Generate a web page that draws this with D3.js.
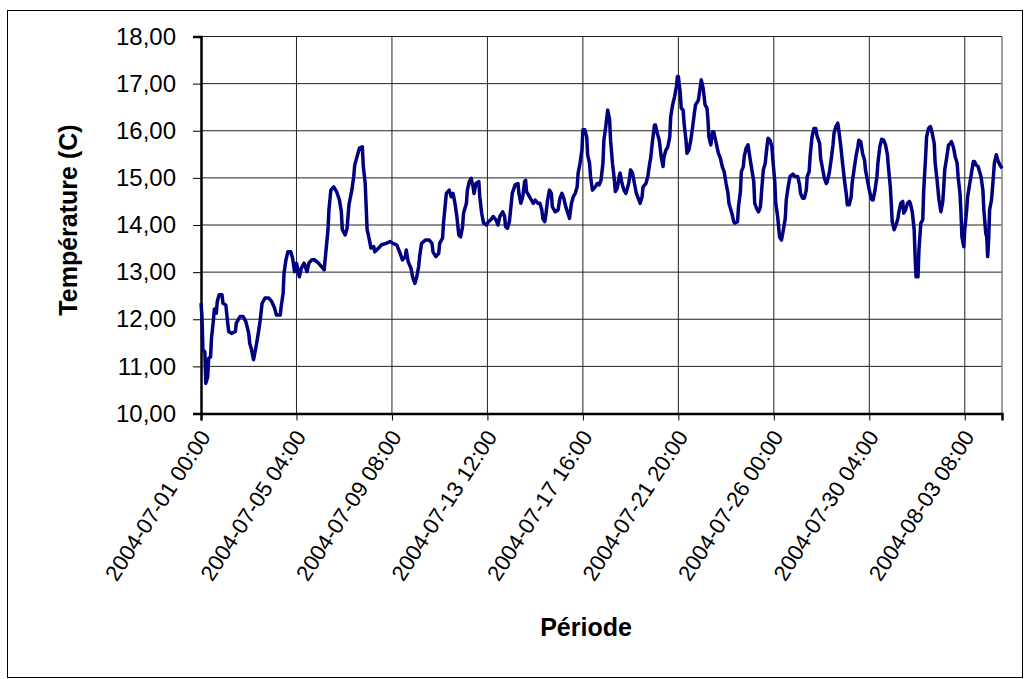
<!DOCTYPE html>
<html>
<head>
<meta charset="utf-8">
<script src="https://cdn.jsdelivr.net/npm/d3@7"></script>
<style>
  body { margin: 0; background: #fff; }
  svg { display: block; font-family: Arial, "Liberation Sans", sans-serif; }
</style>
</head>
<body>
<div id="chart-container"></div>
<script>
// Configuration
const width = 1032;
const height = 679;
const plot = { left: 201, right: 1002, top: 36.5, bottom: 413.5 };

// --- Data (hour index from 2004-07-01 00:00, temperature in C) ---
const hours = [
  0, 1, 2, 4, 5, 7, 8, 10, 11, 13, 14, 16, 17, 19, 22, 23, 26, 28, 29, 32, 36, 37, 41, 44, 47, 50, 51, 53, 55, 57, 58, 60, 62, 64, 67, 71, 74, 77, 79, 83, 84, 86, 87, 89, 91, 94, 96, 98,
  100, 103, 105, 108, 111, 113, 116, 119, 123, 126, 129, 131, 133, 134, 136, 139, 142, 145, 147, 148, 151, 153, 155, 158, 160, 161, 164, 166, 169, 170, 172, 173, 174, 176, 178, 181, 182, 186, 189, 194, 198,
  201, 205, 208, 211, 214, 215, 217, 220, 222, 224, 226, 228, 229, 231, 235, 239, 242, 243, 246, 249, 250, 253, 254, 256, 257, 260, 262, 264, 266, 268, 270, 272, 274, 275, 278, 279, 281, 283, 285, 286, 288, 291, 292, 294, 296, 299,
  301, 304, 306, 309, 311, 313, 316, 318, 319, 321, 323, 325, 326, 329, 332, 333, 335, 337, 339, 340, 341, 343, 346, 348, 350, 353, 355, 357, 358, 360, 361, 363, 365, 367, 368, 371, 374, 376, 378, 380, 382, 385, 386, 388, 390, 392, 394, 395, 397, 399,
  400, 402, 404, 405, 407, 408, 410, 413, 415, 417, 419, 421, 422, 424, 426, 428, 429, 431, 433, 434, 436, 438, 439, 441, 443, 445, 448, 450, 452, 454, 456, 458, 460, 462, 463, 466, 468, 470, 471, 473, 475, 476, 478, 480, 482, 484, 485, 487, 489, 491, 492, 494, 496, 498, 499,
  500, 502, 503, 505, 506, 508, 509, 511, 513, 515, 517, 518, 521, 523, 524, 526, 528, 530, 531, 532, 534, 536, 537, 539, 540, 542, 544, 546, 548, 550, 552, 553, 556, 558, 559, 562, 563, 565, 566, 568, 569, 571, 573, 575, 577, 579, 580, 582, 584, 586, 587, 589, 591, 593, 594, 596, 598, 599,
  601, 602, 604, 605, 606, 608, 610, 612, 613, 615, 617, 620, 622, 625, 627, 628, 630, 632, 634, 635, 637, 638, 640, 642, 644, 645, 648, 649, 651, 653, 655, 656, 658, 660, 662, 663, 665, 667, 668, 670, 672, 674, 676, 677, 679, 681, 682, 684, 686, 688, 689, 691, 693, 695, 696, 698,
  700, 702, 703, 704, 706, 708, 709, 711, 713, 715, 717, 719, 720, 722, 723, 724, 726, 728, 730, 731, 733, 735, 736, 738, 740, 742, 743, 745, 747, 748, 749, 751, 752, 754, 756, 757, 759, 760, 762, 764, 766, 768, 769, 771, 773, 775, 777, 778, 779, 781, 783, 785, 786, 788, 790, 792, 793, 795, 796, 797, 799,
  800, 802, 803, 805, 807, 809, 810, 812, 814, 816, 817, 819, 820, 822, 823, 824, 825, 826, 828, 830, 831, 833, 835, 837, 839
];
const temps = [
  12.34, 12.06, 11.35, 11.31, 10.64, 10.78, 11.17, 11.20, 11.60, 11.98, 12.22, 12.13, 12.37, 12.52, 12.52, 12.34, 12.30, 11.92, 11.74, 11.70, 11.74, 11.92, 12.06, 12.06, 11.95, 11.70, 11.49, 11.35, 11.14, 11.35, 11.46, 11.70, 11.98, 12.34, 12.45, 12.45, 12.38, 12.24, 12.09, 12.09, 12.27, 12.55, 12.98, 13.26, 13.43, 13.43, 13.29, 13.01,
  13.19, 12.90, 13.08, 13.19, 13.01, 13.19, 13.26, 13.26, 13.19, 13.12, 13.05, 13.47, 13.90, 14.32, 14.74, 14.81, 14.71, 14.53, 14.28, 13.90, 13.79, 13.93, 14.43, 14.74, 15.03, 15.27, 15.49, 15.63, 15.66, 15.24, 14.88, 14.39, 13.90, 13.72, 13.51, 13.54, 13.43, 13.51, 13.58, 13.61, 13.65,
  13.61, 13.58, 13.43, 13.26, 13.33, 13.47, 13.22, 13.08, 12.87, 12.76, 12.90, 13.12, 13.33, 13.61, 13.68, 13.68, 13.61, 13.43, 13.33, 13.40, 13.61, 13.72, 14.04, 14.46, 14.67, 14.74, 14.60, 14.67, 14.46, 14.18, 13.79, 13.75, 13.97, 14.25, 14.46, 14.74, 14.92, 14.99, 14.81, 14.67, 14.88, 14.92, 14.60, 14.25, 14.04, 14.00,
  14.07, 14.12, 14.18, 14.11, 14.00, 14.18, 14.28, 14.18, 13.97, 13.93, 14.07, 14.46, 14.67, 14.85, 14.88, 14.67, 14.46, 14.60, 14.92, 14.95, 14.71, 14.64, 14.53, 14.46, 14.53, 14.46, 14.46, 14.32, 14.14, 14.07, 14.18, 14.53, 14.74, 14.67, 14.39, 14.28, 14.32, 14.57, 14.67, 14.57, 14.39, 14.21, 14.14, 14.46, 14.60, 14.67, 14.81, 15.10, 15.31, 15.59,
  16.02, 16.02, 15.87, 15.49, 15.31, 15.03, 14.74, 14.81, 14.88, 14.85, 14.95, 15.31, 15.80, 16.09, 16.44, 16.23, 15.80, 15.31, 14.95, 14.71, 14.78, 15.03, 15.10, 14.88, 14.74, 14.67, 14.88, 15.17, 15.10, 14.88, 14.67, 14.57, 14.46, 14.60, 14.81, 14.88, 15.03, 15.31, 15.42, 15.80, 16.12, 16.12, 15.94, 15.80, 15.45, 15.24, 15.45, 15.59, 15.66, 15.87, 16.30, 16.55, 16.72, 16.94, 17.15,
  17.15, 16.80, 16.48, 16.44, 16.16, 15.80, 15.52, 15.59, 15.80, 16.09, 16.41, 16.55, 16.65, 16.94, 17.08, 16.90, 16.55, 16.48, 16.23, 15.87, 15.70, 15.98, 15.98, 15.80, 15.70, 15.52, 15.42, 15.24, 15.13, 14.88, 14.67, 14.46, 14.25, 14.07, 14.04, 14.07, 14.39, 14.71, 15.13, 15.24, 15.45, 15.63, 15.70, 15.42, 15.17, 14.92, 14.46, 14.35, 14.28, 14.39, 14.67, 15.17, 15.31, 15.70, 15.84, 15.80, 15.66, 15.38,
  14.92, 14.46, 14.18, 13.97, 13.75, 13.68, 13.90, 14.14, 14.53, 14.81, 15.03, 15.08, 15.03, 15.03, 14.85, 14.67, 14.57, 14.57, 14.74, 15.03, 15.13, 15.45, 15.87, 16.05, 16.05, 15.91, 15.73, 15.42, 15.20, 14.99, 14.88, 14.92, 15.10, 15.38, 15.70, 15.94, 16.09, 16.16, 16.02, 15.70, 15.31, 14.95, 14.64, 14.43, 14.43, 14.60, 14.88, 15.17, 15.45, 15.66, 15.80, 15.77, 15.52, 15.38, 15.17, 14.95,
  14.74, 14.57, 14.53, 14.53, 14.74, 15.03, 15.31, 15.66, 15.82, 15.80, 15.70, 15.49, 15.24, 14.81, 14.46, 14.07, 13.90, 14.00, 14.14, 14.28, 14.46, 14.50, 14.25, 14.32, 14.46, 14.50, 14.46, 14.28, 13.90, 13.33, 12.90, 12.90, 13.47, 14.04, 14.11, 14.74, 15.45, 15.87, 16.05, 16.09, 15.94, 15.73, 15.31, 14.95, 14.53, 14.28, 14.50, 14.81, 15.17, 15.42, 15.70, 15.73, 15.77, 15.66, 15.45, 15.31, 15.03, 14.67, 14.28, 13.75, 13.54,
  13.90, 14.32, 14.60, 14.85, 15.10, 15.35, 15.35, 15.27, 15.24, 15.10, 15.03, 14.74, 14.32, 13.82, 13.75, 13.33, 13.68, 14.32, 14.53, 15.03, 15.31, 15.49, 15.35, 15.27, 15.20
];
const yTicks = [10, 11, 12, 13, 14, 15, 16, 17, 18];
const xTickHours = [0, 100, 200, 300, 400, 500, 600, 700, 800];
const xTickLabels = [
  "2004-07-01 00:00", "2004-07-05 04:00", "2004-07-09 08:00", "2004-07-13 12:00",
  "2004-07-17 16:00", "2004-07-21 20:00", "2004-07-26 00:00", "2004-07-30 04:00",
  "2004-08-03 08:00"
];

const data = hours.map((h, i) => ({ h: h, t: temps[i] }));

const svg = d3.select("#chart-container")
    .append("svg")
    .attr("width", width)
    .attr("height", height);

// chart frame
svg.append("rect")
    .attr("x", 7.5).attr("y", 10.5)
    .attr("width", 1015).attr("height", 667)
    .attr("fill", "#fff")
    .attr("stroke", "#000")
    .attr("stroke-width", 1);

const x = d3.scaleLinear().domain([0, 839]).range([plot.left, plot.right]);
const y = d3.scaleLinear().domain([10, 18]).range([plot.bottom, plot.top]);

// gridlines
svg.append("g")
    .selectAll("line")
    .data(yTicks)
    .join("line")
    .attr("x1", plot.left).attr("x2", plot.right)
    .attr("y1", d => y(d)).attr("y2", d => y(d))
    .attr("stroke", "#222").attr("stroke-width", 1);

svg.append("g")
    .selectAll("line")
    .data(xTickHours.slice(1))
    .join("line")
    .attr("x1", d => x(d)).attr("x2", d => x(d))
    .attr("y1", plot.top).attr("y2", plot.bottom)
    .attr("stroke", "#222").attr("stroke-width", 1);

// plot area right border
svg.append("line")
    .attr("x1", plot.right).attr("x2", plot.right)
    .attr("y1", plot.top).attr("y2", plot.bottom)
    .attr("stroke", "#808080").attr("stroke-width", 1.5);

// y axis
const yAxis = svg.append("g")
    .attr("transform", `translate(${plot.left},0)`)
    .call(d3.axisLeft(y).tickValues(yTicks).tickSize(8).tickPadding(17)
        .tickFormat(d => d3.format(".2f")(d).replace(".", ",")));
yAxis.select(".domain").attr("stroke-width", 2.5);
yAxis.selectAll("text").attr("font-size", 24).attr("font-family", "Arial, 'Liberation Sans', sans-serif");

// x axis
const xAxis = svg.append("g")
    .attr("transform", `translate(0,${plot.bottom})`)
    .call(d3.axisBottom(x).tickValues(xTickHours).tickSize(7).tickFormat(""));
xAxis.select(".domain").attr("stroke-width", 2.5);

svg.append("g")
    .selectAll("text")
    .data(xTickHours)
    .join("text")
    .attr("transform", d => `translate(${x(d) + 4},${plot.bottom + 19}) rotate(-57)`)
    .attr("text-anchor", "end")
    .attr("dy", "0.35em")
    .attr("font-size", 22)
    .text((d, i) => xTickLabels[i]);

// temperature line
const line = d3.line()
    .x(d => x(d.h))
    .y(d => y(d.t));

svg.append("path")
    .datum(data)
    .attr("fill", "none")
    .attr("stroke", "#000080")
    .attr("stroke-width", 3.5)
    .attr("stroke-linejoin", "round")
    .attr("d", line);

// axis titles
svg.append("text")
    .attr("x", 586).attr("y", 636)
    .attr("text-anchor", "middle")
    .attr("font-size", 25)
    .attr("font-weight", "bold")
    .text("Période");

svg.append("text")
    .attr("transform", "translate(77,220) rotate(-90)")
    .attr("text-anchor", "middle")
    .attr("font-size", 25)
    .attr("font-weight", "bold")
    .text("Température (C)");
</script>
</body>
</html>
